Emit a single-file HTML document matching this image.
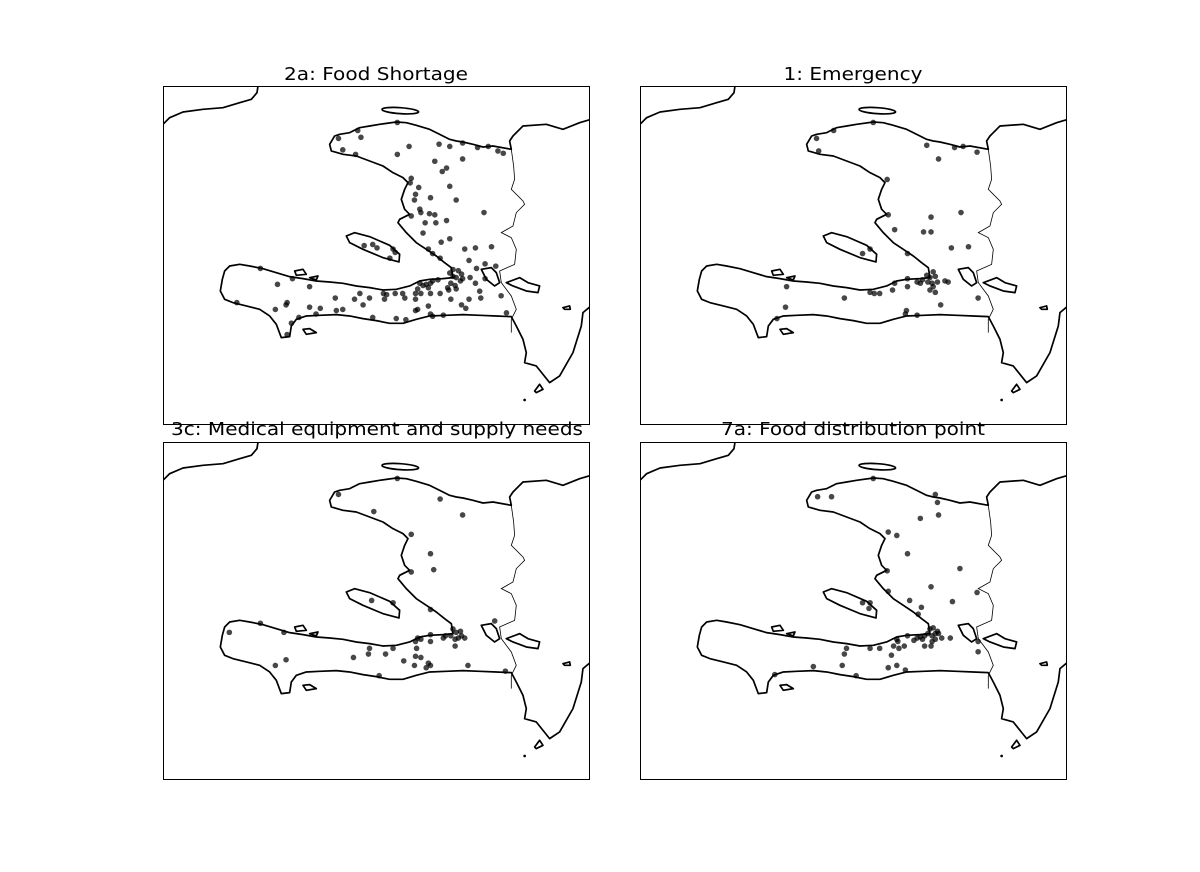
<!DOCTYPE html>
<html><head><meta charset="utf-8"><style>
body{margin:0;background:#fff;}
svg text{font-family:"DejaVu Sans","Liberation Sans",sans-serif;font-size:18px;fill:#000;}
.coast{fill:none;stroke:#000;stroke-width:1.7;vector-effect:non-scaling-stroke;stroke-linejoin:round}
.border{fill:none;stroke:#000;stroke-width:0.8;vector-effect:non-scaling-stroke}
</style></head><body>
<svg id="fig" width="1200" height="867" viewBox="0 0 1200 867" xmlns="http://www.w3.org/2000/svg">
<defs>
<g id="basemap" transform="scale(0.3333)">
<path class="coast" d="M0,115 L20,95 L60,78 L120,70 L180,65 L230,50 L265,40 L282,20 L285,0"/>
<path class="coast" d="M1284,100 L1250,110 L1200,130 L1150,115 L1080,120 L1050,150 L1040,165 L1045,190 L990,180 L960,183 L930,175 L900,168 L880,165 L860,160 L840,150 L800,130 L760,118 L730,110 L700,108 L650,115 L620,120 L590,125 L560,140 L530,145 L515,150 L500,175 L505,195 L540,205 L580,210 L620,225 L660,240 L690,260 L720,275 L735,290 L725,310 L715,340 L725,370 L740,385 L710,400 L705,410 L730,440 L760,470 L790,490 L820,510 L845,530 L865,545 L870,575 L840,578 L800,580 L770,585 L740,600 L700,610 L660,612 L620,605 L580,600 L540,592 L500,588 L460,585 L420,578 L380,572 L340,560 L300,548 L260,540 L230,535 L200,540 L185,555 L178,580 L172,615 L185,640 L210,650 L250,660 L290,670 L320,690 L340,715 L355,755 L380,752 L385,720 L400,700 L430,690 L470,688 L520,686 L560,690 L600,698 L640,704 L680,712 L720,712 L760,700 L800,690 L850,688 L900,686 L950,688 L1000,690 L1045,692 L1060,720 L1080,760 L1090,800 L1085,830 L1120,840 L1160,890 L1190,870 L1230,800 L1255,720 L1260,680 L1284,660"/>
<path class="border" d="M1045,190 L1052,240 L1055,280 L1045,310 L1080,345 L1085,355 L1060,380 L1050,420 L1015,440 L1045,455 L1060,490 L1055,535 L1010,555 L1015,590 L1045,630 L1060,670 L1045,700 L1045,740"/>
<path class="coast" d="M955,550 L985,545 L1000,560 L1010,590 L995,600 L970,580 Z"/>
<path class="coast" d="M1030,590 L1070,575 L1095,590 L1130,600 L1125,620 L1090,615 L1050,600 Z"/>
<ellipse class="coast" cx="712" cy="74" rx="55" ry="9" transform="rotate(4 712 74)"/>
<path class="coast" d="M550,450 L575,440 L620,452 L680,478 L710,505 L708,528 L660,515 L600,490 L560,470 Z"/>
<path class="coast" d="M395,555 L420,550 L430,565 L400,568 Z M440,575 L465,570 L460,582 Z"/>
<path class="coast" d="M420,730 L440,728 L460,740 L430,745 Z"/>
<path class="coast" d="M1200,665 L1220,660 L1222,670 L1205,670 Z M1115,915 L1130,895 L1140,910 L1120,920 Z"/>
<circle cx="1085" cy="942" r="4" fill="#000"/>
</g>
</defs>

<text x="376" y="80" text-anchor="middle" textLength="184" lengthAdjust="spacingAndGlyphs">2a: Food Shortage</text>
<text x="853" y="80" text-anchor="middle" textLength="139" lengthAdjust="spacingAndGlyphs">1: Emergency</text>
<text x="377" y="435" text-anchor="middle" textLength="412" lengthAdjust="spacingAndGlyphs">3c: Medical equipment and supply needs</text>
<text x="853" y="435" text-anchor="middle" textLength="264" lengthAdjust="spacingAndGlyphs">7a: Food distribution point</text>

<svg id="p0" x="163" y="86" width="427" height="339"><use href="#basemap"/><g class="pts"></g><rect x="0.5" y="0.5" width="426" height="338" fill="none" stroke="#000"/></svg>
<svg id="p1" x="640" y="86" width="427" height="339"><use href="#basemap"/><g class="pts"></g><rect x="0.5" y="0.5" width="426" height="338" fill="none" stroke="#000"/></svg>
<svg id="p2" x="163" y="442" width="427" height="338"><use href="#basemap"/><g class="pts"></g><rect x="0.5" y="0.5" width="426" height="337" fill="none" stroke="#000"/></svg>
<svg id="p3" x="640" y="442" width="427" height="338"><use href="#basemap"/><g class="pts"></g><rect x="0.5" y="0.5" width="426" height="337" fill="none" stroke="#000"/></svg>
</svg>
<script>
const lonFood=[-73.18,-73.15,-73.36,-73.32,-73.20,-72.81,-72.70,-72.81,-72.42,-72.32,-72.20,-72.06,-71.96,-71.87,-71.82,-72.46,-72.20,-72.35,-72.39,-72.68,-72.69,-72.61,-72.64,-72.50,-72.32,-72.26,-72.65,-72.60,-72.59,-72.51,-72.46,-72.68,-72.55,-72.45,-72.35,-72.00,-72.57,-72.40,-72.32,-72.08,-72.18,-71.93,-72.52,-72.48,-72.41,-72.14,-72.07,-71.99,-71.89,-73.12,-73.04,-73.00,-72.85,-72.83,-72.88,-72.32,-72.29,-72.26,-72.22,-72.27,-72.31,-72.24,-72.21,-72.29,-72.26,-72.34,-72.20,-72.60,-72.57,-72.54,-72.50,-72.48,-72.43,-72.62,-72.59,-72.52,-72.64,-73.93,-74.09,-73.79,-73.63,-74.31,-73.84,-73.85,-73.95,-73.63,-73.53,-73.39,-73.21,-73.16,-73.07,-73.13,-73.32,-73.38,-73.73,-73.80,-73.84,-73.57,-72.94,-72.91,-72.83,-72.76,-72.74,-72.93,-72.64,-72.62,-72.64,-72.52,-72.50,-72.48,-72.38,-72.41,-72.33,-72.31,-72.50,-72.21,-72.17,-72.14,-72.04,-72.03,-72.08,-72.13,-71.99,-71.84,-71.79,-73.04,-72.73,-72.82];
const latFood=[19.88,19.82,19.81,19.71,19.67,19.95,19.74,19.67,19.76,19.74,19.77,19.73,19.74,19.70,19.68,19.61,19.63,19.55,19.52,19.46,19.42,19.38,19.32,19.29,19.39,19.27,19.27,19.19,19.16,19.15,19.14,19.13,19.07,19.07,19.09,19.16,18.98,18.90,18.93,18.85,18.84,18.86,18.84,18.80,18.76,18.74,18.67,18.71,18.69,18.87,18.88,18.85,18.84,18.81,18.76,18.63,18.60,18.59,18.56,18.52,18.54,18.65,18.62,18.66,18.49,18.50,18.58,18.54,18.52,18.53,18.54,18.56,18.57,18.49,18.45,18.50,18.45,18.53,18.67,18.58,18.51,18.37,18.37,18.35,18.31,18.33,18.32,18.41,18.40,18.45,18.41,18.35,18.31,18.30,18.24,18.19,18.09,18.27,18.45,18.44,18.45,18.45,18.41,18.40,18.40,18.31,18.30,18.34,18.27,18.25,18.26,18.45,18.48,18.40,18.45,18.35,18.32,18.40,18.47,18.41,18.54,18.59,18.58,18.43,18.28,18.24,18.22,18.23];
const lonEmerg=[-73.19,-73.35,-73.33,-72.82,-72.32,-72.21,-72.06,-71.98,-71.85,-72.69,-72.68,-72.62,-72.28,-72.35,-72.28,-72.00,-72.09,-71.93,-72.85,-72.92,-72.50,-72.32,-72.29,-72.26,-72.24,-72.27,-72.31,-72.36,-72.38,-72.41,-72.22,-72.26,-72.29,-72.24,-72.62,-72.64,-72.50,-72.50,-72.15,-72.12,-72.85,-72.81,-72.76,-73.09,-73.63,-73.64,-72.51,-72.52,-72.41,-72.19,-71.84,-73.72];
const latEmerg=[19.88,19.81,19.70,19.95,19.75,19.63,19.73,19.74,19.69,19.45,19.14,19.01,19.12,18.99,18.99,19.16,18.85,18.86,18.84,18.80,18.80,18.61,18.59,18.64,18.60,18.54,18.55,18.57,18.54,18.55,18.55,18.51,18.48,18.46,18.54,18.48,18.58,18.51,18.56,18.55,18.46,18.45,18.45,18.41,18.51,18.33,18.30,18.27,18.26,18.35,18.41,18.23];
const lonMed=[-73.36,-72.81,-72.41,-72.20,-73.03,-72.68,-72.50,-72.47,-72.68,-73.05,-72.85,-72.50,-71.90,-74.09,-74.38,-73.87,-72.29,-72.26,-72.22,-72.24,-72.27,-72.31,-72.21,-72.36,-72.38,-72.18,-72.27,-72.62,-72.59,-72.64,-72.50,-72.50,-72.63,-72.85,-73.07,-73.08,-73.22,-72.92,-72.75,-72.64,-72.59,-72.52,-72.54,-72.65,-72.50,-73.85,-73.95,-72.98,-72.15,-71.80];
const latMed=[19.81,19.95,19.77,19.63,19.66,19.46,19.29,19.15,19.13,18.88,18.86,18.80,18.70,18.68,18.60,18.60,18.63,18.60,18.61,18.55,18.54,18.57,18.57,18.57,18.55,18.55,18.48,18.55,18.54,18.52,18.58,18.52,18.46,18.46,18.46,18.41,18.38,18.41,18.35,18.39,18.38,18.33,18.29,18.31,18.31,18.36,18.31,18.22,18.31,18.26];
const lonDist=[-73.34,-73.21,-72.82,-72.22,-72.24,-72.21,-72.38,-72.68,-72.60,-72.50,-72.01,-72.28,-72.69,-72.68,-72.48,-72.37,-72.40,-72.08,-71.85,-72.92,-72.86,-72.85,-72.29,-72.26,-72.22,-72.24,-72.27,-72.31,-72.21,-72.34,-72.38,-72.41,-72.27,-72.24,-72.36,-72.50,-72.60,-72.59,-72.63,-72.58,-72.53,-72.44,-72.34,-72.28,-72.18,-72.10,-71.84,-71.84,-72.85,-72.76,-73.07,-73.09,-73.11,-72.65,-72.68,-72.60,-72.52,-72.98,-73.38,-73.74];
const latDist=[19.79,19.79,19.95,19.74,19.81,19.63,19.60,19.48,19.45,19.29,19.16,19.00,19.14,18.96,18.88,18.82,18.76,18.87,18.95,18.86,18.81,18.86,18.63,18.64,18.61,18.59,18.57,18.59,18.59,18.57,18.56,18.55,18.52,18.54,18.54,18.57,18.54,18.52,18.48,18.46,18.48,18.53,18.48,18.48,18.55,18.55,18.52,18.43,18.46,18.46,18.46,18.41,18.31,18.40,18.29,18.31,18.27,18.22,18.30,18.23];

const xScale = lon => (lon + 75) * 107;
const yScale = lat => (20.27 - lat) * 114;
const series=[[lonFood,latFood],[lonEmerg,latEmerg],[lonMed,latMed],[lonDist,latDist]];
const NS='http://www.w3.org/2000/svg';
series.forEach((s,i)=>{
  const g=document.querySelector('#p'+i+' .pts');
  s[0].forEach((lon,j)=>{
    const c=document.createElementNS(NS,'circle');
    c.setAttribute('cx',xScale(lon));
    c.setAttribute('cy',yScale(s[1][j]));
    c.setAttribute('r',2.8);
    c.setAttribute('fill','rgba(0,0,0,0.72)');
    
    
    g.appendChild(c);
  });
});
</script>
</body></html>
